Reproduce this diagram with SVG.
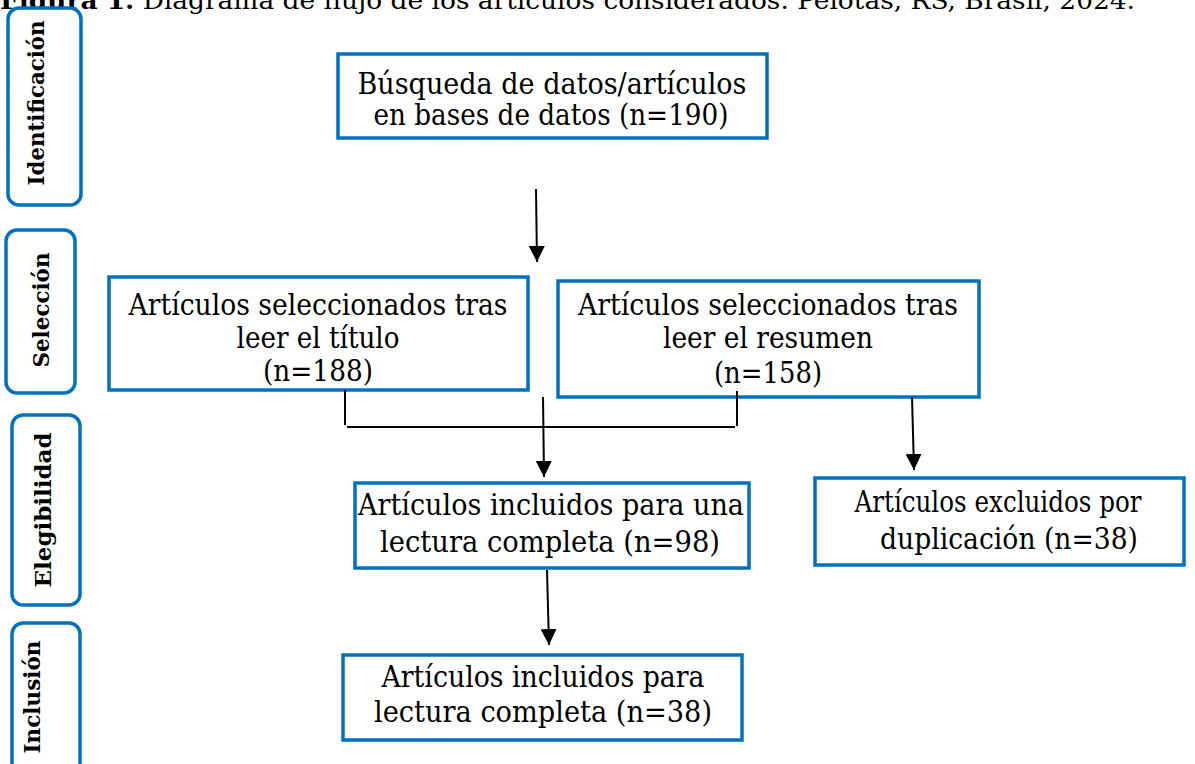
<svg xmlns="http://www.w3.org/2000/svg" width="1195" height="764" viewBox="0 0 1195 764">
<defs>
<style>
.box{fill:#fff;stroke:#0070C0;stroke-width:3.5}
.side{fill:#fff;stroke:#0070C0;stroke-width:3.5}
.t{font-family:"DejaVu Serif","Liberation Serif",serif;font-size:30px;fill:#000;text-anchor:middle}
.s{font-family:"DejaVu Serif","Liberation Serif",serif;font-size:23px;font-weight:bold;fill:#000;text-anchor:middle}
.ln{stroke:#000;stroke-width:2;fill:none}
.title{font-family:"DejaVu Serif","Liberation Serif",serif;font-size:24px;fill:#000}
</style>
<marker id="ah" markerWidth="8" markerHeight="8" refX="8" refY="4" orient="auto" markerUnits="strokeWidth">
<path d="M0,0 L8,4 L0,8 Z" fill="#000"/>
</marker>
</defs>
<rect width="1195" height="764" fill="#fff"/>
<text class="title" x="0" y="9" textLength="1135" lengthAdjust="spacingAndGlyphs"><tspan font-weight="bold">Figura 1.</tspan> Diagrama de flujo de los artículos considerados. Pelotas, RS, Brasil, 2024.</text>

<g id="stage-identificacion">
<rect class="side" x="8" y="8" width="73" height="197" rx="11"/>
<text class="s" transform="translate(44,103) rotate(-90)" textLength="165" lengthAdjust="spacingAndGlyphs">Identificación</text>
</g>
<g id="stage-seleccion">
<rect class="side" x="6" y="230" width="69" height="163" rx="11"/>
<text class="s" transform="translate(49,310) rotate(-90)" textLength="115" lengthAdjust="spacingAndGlyphs">Selección</text>
</g>
<g id="stage-elegibilidad">
<rect class="side" x="12" y="415" width="68" height="190" rx="11"/>
<text class="s" transform="translate(51,510) rotate(-90)" textLength="155" lengthAdjust="spacingAndGlyphs">Elegibilidad</text>
</g>
<g id="stage-inclusion">
<rect class="side" x="12" y="623" width="68" height="160" rx="11"/>
<text class="s" transform="translate(40,697) rotate(-90)" textLength="113" lengthAdjust="spacingAndGlyphs">Inclusión</text>
</g>

<g id="n-busqueda">
<rect class="box" x="338" y="54" width="429" height="84"/>
<text class="t" x="552" y="94" font-size="28" textLength="389" lengthAdjust="spacingAndGlyphs">Búsqueda de datos/artículos</text>
<text class="t" x="551" y="125" font-size="28" textLength="355" lengthAdjust="spacingAndGlyphs">en bases de datos (n=190)</text>
</g>
<g id="n-titulo">
<rect class="box" x="109" y="277" width="419" height="113"/>
<text class="t" x="318" y="315" textLength="379" lengthAdjust="spacingAndGlyphs">Artículos seleccionados tras</text>
<text class="t" x="318" y="348" textLength="163" lengthAdjust="spacingAndGlyphs">leer el título</text>
<text class="t" x="318" y="381" textLength="110" lengthAdjust="spacingAndGlyphs">(n=188)</text>
</g>
<g id="n-resumen">
<rect class="box" x="558" y="281" width="421" height="116"/>
<text class="t" x="768" y="315" textLength="380" lengthAdjust="spacingAndGlyphs">Artículos seleccionados tras</text>
<text class="t" x="768" y="348" textLength="210" lengthAdjust="spacingAndGlyphs">leer el resumen</text>
<text class="t" x="768" y="383" textLength="108" lengthAdjust="spacingAndGlyphs">(n=158)</text>
</g>
<g id="n-incluidos-lectura">
<rect class="box" x="355" y="483" width="394" height="85"/>
<text class="t" x="551" y="515" textLength="386" lengthAdjust="spacingAndGlyphs">Artículos incluidos para una</text>
<text class="t" x="550" y="552" textLength="340" lengthAdjust="spacingAndGlyphs">lectura completa (n=98)</text>
</g>
<g id="n-excluidos">
<rect class="box" x="815" y="478" width="369" height="87"/>
<text class="t" x="998" y="512" textLength="287" lengthAdjust="spacingAndGlyphs">Artículos excluidos por</text>
<text class="t" x="1009" y="549" textLength="258" lengthAdjust="spacingAndGlyphs">duplicación  (n=38)</text>
</g>
<g id="n-incluidos-final">
<rect class="box" x="343" y="655" width="399" height="85"/>
<text class="t" x="543" y="687" textLength="323" lengthAdjust="spacingAndGlyphs">Artículos incluidos para</text>
<text class="t" x="543" y="722" textLength="338" lengthAdjust="spacingAndGlyphs">lectura completa (n=38)</text>
</g>

<g id="connectors">
<line class="ln" x1="536" y1="189" x2="537" y2="262" marker-end="url(#ah)"/>
<line class="ln" x1="345" y1="390" x2="345" y2="425"/>
<line class="ln" x1="737" y1="391" x2="737" y2="426"/>
<line class="ln" x1="347" y1="427" x2="735" y2="427"/>
<line class="ln" x1="543" y1="397" x2="544" y2="477" marker-end="url(#ah)"/>
<line class="ln" x1="912" y1="397" x2="914" y2="470" marker-end="url(#ah)"/>
<line class="ln" x1="547" y1="570" x2="549" y2="645" marker-end="url(#ah)"/>
</g>
</svg>
